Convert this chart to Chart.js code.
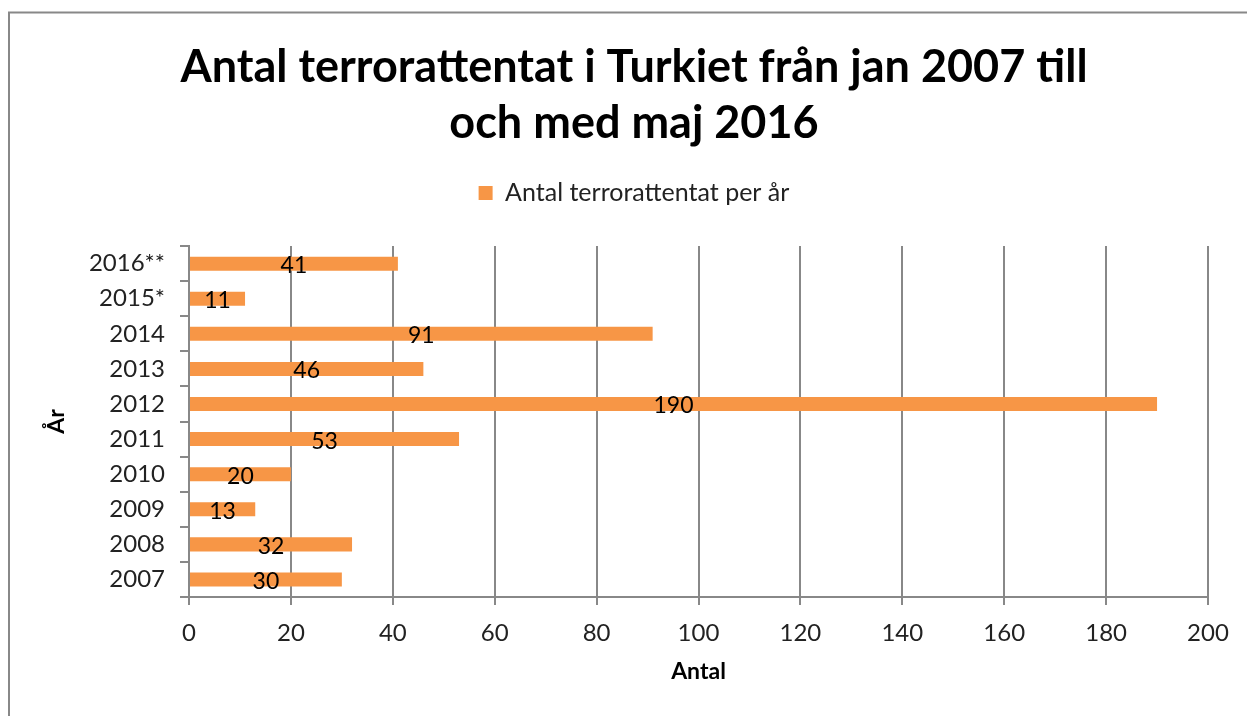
<!DOCTYPE html>
<html>
<head>
<meta charset="utf-8">
<title>Antal terrorattentat i Turkiet</title>
<script src="https://cdn.jsdelivr.net/npm/chart.js@4.4.0/dist/chart.umd.min.js"></script>
<style>
  html, body { margin: 0; padding: 0; background: #fff; }
</style>
</head>
<body>
<canvas id="chart" width="1247" height="716"></canvas>
<script>
// data
const years = ["2007", "2008", "2009", "2010", "2011", "2012", "2013", "2014", "2015*", "2016**"];
const attacks = [30, 32, 13, 20, 53, 190, 46, 91, 11, 41];
const x_ticks = [0, 20, 40, 60, 80, 100, 120, 140, 160, 180, 200];

const chart_title = ["Antal terrorattentat i Turkiet från jan 2007 till", "och med maj 2016"];
const series_label = "Antal terrorattentat per år";

const FONT = "Lato";
const GRAY = "#888888";

// frame round the chart (left + top edges only are visible in the reference)
const frame = {
  id: "frame",
  beforeDraw(chart) {
    const ctx = chart.ctx;
    ctx.save();
    ctx.strokeStyle = GRAY;
    ctx.lineWidth = 2;
    ctx.strokeRect(9, 12.5, 1400, 900);
    ctx.restore();
  },
};

// value labels in the middle of each bar
const bar_values = {
  id: "bar_values",
  afterDatasetsDraw(chart) {
    const ctx = chart.ctx;
    const meta = chart.getDatasetMeta(0);
    ctx.save();
    ctx.font = "23px " + FONT;
    ctx.fillStyle = "#000";
    ctx.textAlign = "center";
    ctx.textBaseline = "middle";
    meta.data.forEach((bar, i) => {
      const x = (bar.x + bar.base) / 2;
      ctx.fillText(String(chart.data.datasets[0].data[i]), x, bar.y + 2);
    });
    ctx.restore();
  },
};

new Chart(document.getElementById("chart"), {
  type: "bar",
  data: {
    labels: years,
    datasets: [
      {
        label: series_label,
        data: attacks,
        backgroundColor: "#F79646",
        borderWidth: 0,
        barPercentage: 0.4,
        categoryPercentage: 1.0,
        xAxisID: "x",
      },
    ],
  },
  options: {
    responsive: false,
    animation: false,
    indexAxis: "y",
    layout: {
      // left/right chosen so title + legend centre where the reference has them
      padding: { left: 60, top: 0, right: 39, bottom: 0 },
    },
    plugins: {
      title: {
        display: true,
        text: chart_title,
        color: "#000",
        font: { family: FONT, size: 45, weight: "bold", lineHeight: 1.24 },
        padding: { top: 40, bottom: 19 },
      },
      legend: {
        display: true,
        labels: {
          color: "#222",
          font: { family: FONT, size: 25 },
          boxWidth: 14,
          boxHeight: 14,
        },
      },
      tooltip: { enabled: false },
    },
    scales: {
      x: {
        type: "linear",
        position: "bottom",
        min: 0,
        max: 200,
        afterBuildTicks: (scale) => {
          scale.ticks = x_ticks.map((v) => ({ value: v }));
        },
        afterFit: (scale) => {
          scale.height = 119;
        },
        grid: { color: GRAY, lineWidth: 2, tickLength: 8 },
        border: { color: GRAY, width: 2 },
        ticks: {
          color: "#222",
          font: { family: FONT, size: 24 },
          padding: 14,
          maxRotation: 0,
        },
        title: {
          display: true,
          text: "Antal",
          color: "#000",
          font: { family: FONT, size: 23, weight: "bold" },
          padding: { bottom: 31 },
        },
      },
      gap: {
        // empty spacer between legend and plot
        type: "linear",
        position: "top",
        display: true,
        grid: { display: false },
        border: { display: false },
        ticks: { display: false },
        afterFit: (scale) => {
          scale.height = 30.5;
        },
      },
      y: {
        type: "category",
        reverse: true,
        afterFit: (scale) => {
          scale.width = 129;
        },
        grid: {
          drawOnChartArea: false,
          color: GRAY,
          lineWidth: 2,
          tickLength: 9,
        },
        border: { color: GRAY, width: 2 },
        ticks: {
          color: "#222",
          font: { family: FONT, size: 24 },
          padding: 15,
        },
        title: {
          display: true,
          text: "År",
          color: "#000",
          font: { family: FONT, size: 23, weight: "bold" },
          // pulled a little left of the scale box, as in the reference
          padding: { top: -17 },
        },
      },
    },
  },
  plugins: [frame, bar_values],
});
</script>
</body>
</html>
